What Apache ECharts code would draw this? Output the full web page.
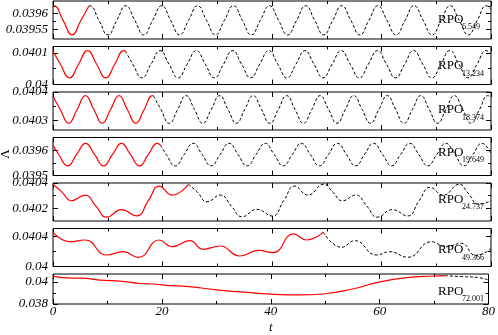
<!DOCTYPE html>
<html><head><meta charset="utf-8">
<script src="https://cdn.jsdelivr.net/npm/echarts@6/dist/echarts.min.js"></script>
<style>html,body{margin:0;padding:0;background:#fff}#c{width:498px;height:335px}</style>
</head><body><div id="c"></div>
<script>
// ---- data ----
const periods = [6.549, 13.234, 18.374, 19.649, 24.737, 49.366, 72.001];
const periodLabels = ['6.549', '13.234', '18.374', '19.649', '24.737', '49.366', '72.001'];
const xTickValues = [0, 20, 40, 60, 80];
const yMins = [0.03952, 0.04, 0.040265, 0.0395, 0.0401, 0.04, 0.038];
const yMaxs = [0.03964, 0.04012, 0.0404, 0.03965, 0.0404, 0.0405, 0.0407];
const yLabelValues = [[0.03955, 0.0396], [0.04, 0.0401], [0.0403, 0.0404], [0.0395, 0.0396], [0.0402, 0.0404], [0.04, 0.0404], [0.038, 0.04]];
const yMinorValues = [[0.039575, 0.039625], [0.04005], [0.04035], [0.03955], [0.0403], [0.0402], [0.039]];

const orbit1 = [[0,0.039624],[0.2,0.039625],[1.84,0.039579],[3.47,0.039533],[5.11,0.039579],[6.549,0.039624],[6.75,0.039625],[8.39,0.039579],[10.02,0.039533],[11.66,0.039579],[13.3,0.039625],[14.94,0.039579],[16.57,0.039533],[18.21,0.039579],[19.85,0.039625],[21.49,0.039579],[23.12,0.039533],[24.76,0.039579],[26.4,0.039625],[28.04,0.039579],[29.67,0.039533],[31.31,0.039579],[32.95,0.039625],[34.59,0.039579],[36.22,0.039533],[37.86,0.039579],[39.55,0.039625],[41.2,0.039579],[42.85,0.039533],[44.5,0.039579],[46.15,0.039625],[47.8,0.039579],[49.45,0.039533],[51.1,0.039579],[52.75,0.039625],[54.4,0.039579],[56.05,0.039533],[57.7,0.039579],[59.35,0.039625],[61.0,0.039579],[62.65,0.039533],[64.3,0.039579],[65.95,0.039625],[67.6,0.039579],[69.25,0.039533],[70.9,0.039579],[72.55,0.039625],[74.2,0.039579],[75.85,0.039533],[77.5,0.039579],[79.15,0.039625],[80,0.039614]];

const orbit2 = [[0,0.040106],[1.35,0.040064],[3.01,0.040021],[4.66,0.040064],[6.32,0.040107],[7.97,0.040064],[9.63,0.040021],[11.28,0.040064],[12.93,0.040107],[13.234,0.040106],[14.59,0.040064],[16.25,0.040021],[17.9,0.040064],[19.55,0.040107],[21.2,0.040064],[22.86,0.040021],[24.51,0.040064],[26.17,0.040107],[27.82,0.040064],[29.48,0.040021],[31.13,0.040064],[32.79,0.040107],[34.44,0.040064],[36.1,0.040021],[37.75,0.040064],[39.4,0.040107],[41.06,0.040064],[42.72,0.040021],[44.37,0.040064],[46.02,0.040107],[47.67,0.040064],[49.33,0.040021],[50.98,0.040064],[52.64,0.040107],[54.29,0.040064],[55.95,0.040021],[57.6,0.040064],[59.26,0.040107],[60.91,0.040064],[62.57,0.040021],[64.22,0.040064],[65.87,0.040107],[67.53,0.040064],[69.19,0.040021],[70.84,0.040064],[72.49,0.040107],[74.14,0.040064],[75.8,0.040021],[77.45,0.040064],[79.11,0.040107],[80,0.040098]];

const orbit3 = [[0,0.040384],[1.33,0.040338],[2.86,0.040289],[4.4,0.040338],[5.93,0.040387],[7.46,0.040338],[8.99,0.040289],[10.52,0.040338],[12.05,0.040387],[13.58,0.040338],[15.11,0.040289],[16.65,0.040338],[18.18,0.040387],[18.374,0.040386],[19.71,0.040338],[21.24,0.040289],[22.77,0.040338],[24.3,0.040387],[25.83,0.040338],[27.36,0.040289],[28.9,0.040338],[30.43,0.040387],[31.96,0.040338],[33.49,0.040289],[35.02,0.040338],[36.55,0.040387],[38.08,0.040338],[39.61,0.040289],[41.15,0.040338],[42.68,0.040387],[44.21,0.040338],[45.74,0.040289],[47.27,0.040338],[48.8,0.040387],[50.33,0.040338],[51.86,0.040289],[53.4,0.040338],[54.93,0.040387],[56.46,0.040338],[57.99,0.040289],[59.52,0.040338],[61.05,0.040387],[62.58,0.040338],[64.11,0.040289],[65.65,0.040338],[67.18,0.040387],[68.71,0.040338],[70.24,0.040289],[71.77,0.040338],[73.3,0.040387],[74.83,0.040338],[76.36,0.040289],[77.9,0.040338],[79.43,0.040387],[80,0.040381]];

const orbit4 = [[0,0.03962],[1.04,0.039583],[2.68,0.039538],[4.32,0.039583],[5.95,0.039627],[7.59,0.039583],[9.23,0.039538],[10.87,0.039583],[12.5,0.039627],[14.14,0.039583],[15.78,0.039538],[17.42,0.039583],[19.05,0.039627],[19.649,0.03962],[20.69,0.039583],[22.33,0.039538],[23.97,0.039583],[25.6,0.039627],[27.24,0.039583],[28.88,0.039538],[30.52,0.039583],[32.15,0.039627],[33.79,0.039583],[35.45,0.039538],[37.1,0.039583],[38.75,0.039627],[40.4,0.039583],[42.05,0.039538],[43.7,0.039583],[45.35,0.039627],[47.0,0.039583],[48.65,0.039538],[50.3,0.039583],[51.95,0.039627],[53.6,0.039583],[55.25,0.039538],[56.9,0.039583],[58.55,0.039627],[60.2,0.039583],[61.85,0.039538],[63.5,0.039583],[65.15,0.039627],[66.8,0.039583],[68.45,0.039538],[70.1,0.039583],[71.75,0.039627],[73.4,0.039583],[75.05,0.039538],[76.7,0.039583],[78.35,0.039627],[80,0.039584]];

const orbit5 = [[0,0.04039],[1.6,0.04033],[3.4,0.04026],[5.85,0.040305],[7.8,0.04022],[9.8,0.04013],[12.5,0.04019],[15.3,0.04014],[17.4,0.04026],[19.4,0.040376],[21.8,0.040305],[24.737,0.04039],[26.34,0.04033],[28.14,0.040252],[30.59,0.040305],[32.54,0.04022],[34.54,0.040134],[37.24,0.040192],[40.04,0.040139],[42.14,0.04026],[44.14,0.040376],[46.54,0.040305],[49.47,0.04039],[51.07,0.04033],[52.87,0.04026],[55.32,0.040305],[57.27,0.04022],[59.27,0.04013],[61.97,0.04019],[64.77,0.04014],[66.87,0.04026],[68.87,0.040365],[71.27,0.040305],[74.21,0.04039],[75.81,0.04032],[77.8,0.040232],[80,0.040262]];

const orbit6 = [[0,0.04045],[3.1,0.040326],[5.84,0.040349],[9.8,0.040151],[12.8,0.040195],[15.6,0.040121],[19.4,0.040349],[21.7,0.04026],[25.0,0.04034],[27.4,0.040226],[30.5,0.04027],[34.1,0.040138],[37.5,0.040213],[40.2,0.040182],[43.9,0.040428],[46.3,0.040349],[49.366,0.040452],[52.7,0.040253],[55.1,0.04034],[59.1,0.040151],[61.5,0.040195],[64.8,0.040121],[69.1,0.040326],[71.8,0.04026],[74.6,0.040305],[77.2,0.040145],[80,0.040235]];

const orbit7 = [[0,0.040508],[2.5,0.040345],[5.5,0.040323],[8.6,0.040153],[12.8,0.040039],[15.9,0.039847],[18.3,0.039798],[20.7,0.039684],[25,0.039563],[30,0.039279],[35,0.039066],[40,0.038888],[45,0.038817],[50,0.038924],[55,0.03935],[60,0.039989],[65,0.04038],[70,0.040522],[72.001,0.040558],[75,0.040465],[78,0.040395],[80,0.040153]];

const orbits = [orbit1, orbit2, orbit3, orbit4, orbit5, orbit6, orbit7];

// ---- layout ----
const gridTops = [1, 46.5, 92, 137.5, 183, 228.5, 274];
const gridH = 38;
const labelOffsets = [19, 20, 18.5, 15.5, 17, 22, 17.7];
const FONT = 'Liberation Serif';

const grids = [], xAxes = [], yAxes = [], series = [], graphics = [];
const fmt = v => String(parseFloat(Number(v).toPrecision(6)));

orbits.forEach((pts, i) => {
  grids.push({left: 53, right: 7, top: gridTops[i], height: gridH, show: true,
    borderColor: '#000', borderWidth: 1, backgroundColor: 'transparent'});
  const isLast = i === orbits.length - 1;
  const xBase = {gridIndex: i, type: 'value', min: 0, max: 80, interval: 20,
    axisLine: {show: false}, splitLine: {show: false},
    axisTick: {show: true, inside: true, length: 5, lineStyle: {color: '#000', width: 1}},
    minorTick: {show: true, splitNumber: 2, length: 3, lineStyle: {color: '#000', width: 1}},
    minorSplitLine: {show: false}};
  xAxes.push(Object.assign({}, xBase, {position: 'bottom',
    axisLabel: {show: isLast, margin: 1, color: '#000', fontFamily: FONT, fontStyle: 'italic', fontSize: 13,
      customValues: xTickValues},
    name: isLast ? 't' : '', nameLocation: 'middle', nameGap: 17,
    nameTextStyle: {color: '#000', fontFamily: FONT, fontStyle: 'italic', fontSize: 13}}));
  xAxes.push(Object.assign({}, xBase, {position: 'top', axisLabel: {show: false}}));
  const yBase = {gridIndex: i, type: 'value', min: yMins[i], max: yMaxs[i], scale: true,
    axisLine: {show: false}, splitLine: {show: false}};
  const majorTick = {show: true, inside: true, length: 5, customValues: yLabelValues[i], lineStyle: {color: '#000', width: 1}};
  const minorTickS = {show: true, inside: true, length: 3, customValues: yMinorValues[i], lineStyle: {color: '#000', width: 1}};
  yAxes.push(Object.assign({}, yBase, {position: 'left', axisTick: majorTick,
    axisLabel: {show: true, margin: 5, color: '#000', fontFamily: FONT, fontStyle: 'italic', fontSize: 13,
      customValues: yLabelValues[i], formatter: fmt}}));
  yAxes.push(Object.assign({}, yBase, {position: 'left', axisTick: minorTickS, axisLabel: {show: false}}));
  yAxes.push(Object.assign({}, yBase, {position: 'right', axisTick: majorTick, axisLabel: {show: false}}));
  yAxes.push(Object.assign({}, yBase, {position: 'right', axisTick: minorTickS, axisLabel: {show: false}}));

  const T = periods[i];
  series.push({type: 'line', xAxisIndex: i * 2, yAxisIndex: i * 4, showSymbol: false, smooth: 0.5,
    data: pts.filter(p => p[0] >= T), lineStyle: {color: '#000', width: 1, type: [3, 2]}, z: 2});
  series.push({type: 'line', xAxisIndex: i * 2, yAxisIndex: i * 4, showSymbol: false, smooth: 0.5,
    data: pts.filter(p => p[0] <= T), lineStyle: {color: '#ff0000', width: 1.2}, z: 3});

  graphics.push({type: 'text', left: 438, top: gridTops[i] + labelOffsets[i] - 7,
    style: {text: 'RPO', fill: '#000', font: '13px "' + FONT + '"'}, z: 10});
  graphics.push({type: 'text', left: 462, top: gridTops[i] + labelOffsets[i] + 3,
    style: {text: periodLabels[i], fill: '#000', font: '8px "' + FONT + '"'}, z: 10});
});

graphics.push({type: 'text', x: 6, y: 154, rotation: Math.PI / 2,
  style: {text: 'Λ', fill: '#000', font: '13px "' + FONT + '"', align: 'center', verticalAlign: 'middle'}});

const chart = echarts.init(document.getElementById('c'), null, {renderer: 'canvas'});
chart.setOption({animation: false, backgroundColor: '#fff', grid: grids, xAxis: xAxes, yAxis: yAxes,
  series: series, graphic: graphics});
</script></body></html>
